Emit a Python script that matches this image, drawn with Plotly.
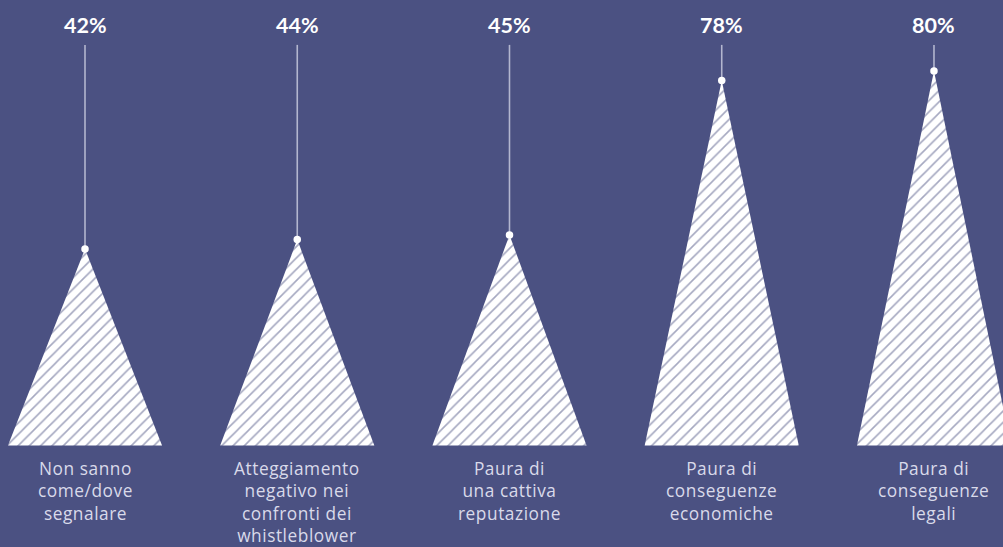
import plotly.graph_objects as go

# Survey results: reasons for not reporting
categories = [
    "Non sanno<br>come/dove<br>segnalare",
    "Atteggiamento<br>negativo nei<br>confronti dei<br>whistleblower",
    "Paura di<br>una cattiva<br>reputazione",
    "Paura di<br>conseguenze<br>economiche",
    "Paura di<br>conseguenze<br>legali",
]
values = [42, 44, 45, 78, 80]
value_labels = ["42%", "44%", "45%", "78%", "80%"]

BG = "#4B5182"
TEXT_LIGHT = "#D9DAEA"
STEM = "#B3B6CF"
HALF_WIDTH = 0.363
STEM_TOP = 85.6
LABEL_Y = 89.9

# vertical scale: data units per pixel, used to stack label lines
PX_PER_UNIT = 4.68
ZERO_PX = 445.5
FIRST_LINE_PX = 468.5
LINE_PX = 22.5
CAT_FONT = 17.3


def px_to_y(px):
    return (ZERO_PX - px) / PX_PER_UNIT


fig = go.Figure()

for i, v in enumerate(values):
    # hatched triangle rising from the baseline to the value
    fig.add_trace(go.Scatter(
        x=[i - HALF_WIDTH, i, i + HALF_WIDTH, i - HALF_WIDTH],
        y=[0, v, 0, 0],
        mode="lines",
        fill="toself",
        fillcolor="white",
        fillpattern=dict(shape="/", bgcolor="white", fgcolor=BG,
                         size=8, solidity=0.2),
        line=dict(width=0, color="white"),
        hoverinfo="skip",
        showlegend=False,
    ))
    # stem from the apex up to the value label
    fig.add_trace(go.Scatter(
        x=[i, i], y=[v, STEM_TOP],
        mode="lines",
        line=dict(color=STEM, width=1.6),
        hoverinfo="skip",
        showlegend=False,
    ))
    # apex dot
    fig.add_trace(go.Scatter(
        x=[i], y=[v],
        mode="markers",
        marker=dict(color="white", size=7.5, line=dict(width=0)),
        hoverinfo="skip",
        showlegend=False,
    ))
    fig.add_annotation(
        x=i, y=LABEL_Y, text=f"<b>{value_labels[i]}</b>",
        showarrow=False, xanchor="center", yanchor="middle",
        font=dict(family="Lato, Open Sans, sans-serif", size=21.5, color="white"),
    )
    # category label below the base
    n_lines = categories[i].count("<br>") + 1
    mid_px = FIRST_LINE_PX + (n_lines - 1) * LINE_PX / 2
    spaced = "<br>".join(
        f"<span style='letter-spacing:0.55px'>{ln}</span>"
        for ln in categories[i].split("<br>")
    )
    fig.add_annotation(
        x=i, y=px_to_y(mid_px), text=spaced,
        showarrow=False, xanchor="center", yanchor="middle", align="center",
        borderpad=0,
        font=dict(family="Open Sans, sans-serif", size=CAT_FONT, color=TEXT_LIGHT),
    )

fig.update_layout(
    width=1003, height=547,
    margin=dict(l=0, r=0, t=0, b=0),
    paper_bgcolor=BG, plot_bgcolor=BG,
    xaxis=dict(range=[-0.4005, 4.3252], visible=False, fixedrange=True),
    yaxis=dict(range=[px_to_y(547), px_to_y(0)], visible=False, fixedrange=True),
    showlegend=False,
)

fig.write_html("out.html")
